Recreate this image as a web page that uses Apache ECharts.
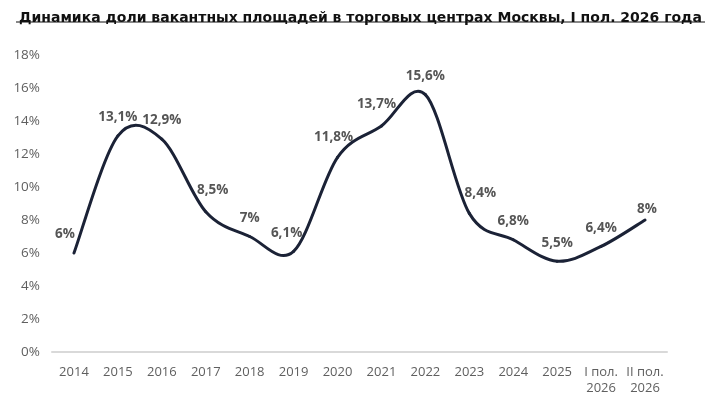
<!DOCTYPE html>
<html>
<head>
<meta charset="utf-8">
<script src="https://cdn.jsdelivr.net/npm/echarts@6/dist/echarts.min.js"></script>
<style>
  html, body { margin: 0; padding: 0; background: #fff; }
  #chart { width: 719px; height: 403px; }
</style>
</head>
<body>
<div id="chart"></div>
<script>
// данные
var categories = ['2014', '2015', '2016', '2017', '2018', '2019', '2020', '2021', '2022', '2023', '2024', '2025', 'I пол.\n2026', 'II пол.\n2026'];
var vacancy = [6, 13.1, 12.9, 8.5, 7, 6.1, 11.8, 13.7, 15.6, 8.4, 6.8, 5.5, 6.4, 8];
var yTicks = [0, 2, 4, 6, 8, 10, 12, 14, 16, 18];

var titleText = 'Динамика доли вакантных площадей в торговых центрах Москвы, I пол. 2026 года';

// сдвиг отдельных подписей (как в оригинале)
var labelShift = { 0: [-9, 0], 3: [7, -3], 5: [-7, 0], 6: [-4, -2], 7: [-5, -3], 9: [11, -2], 13: [2, 8] };

var chart = echarts.init(document.getElementById('chart'));

// сглаженная линия (Catmull-Rom) по точкам через api.coord
function renderSegment(params, api) {
  var i = params.dataIndex;
  if (i >= vacancy.length - 1) return null;
  var pt = function (k) {
    k = Math.max(0, Math.min(vacancy.length - 1, k));
    return api.coord([k, vacancy[k]]);
  };
  var p0 = pt(i - 1), p1 = pt(i), p2 = pt(i + 1), p3 = pt(i + 2);
  var cp1 = [p1[0] + (p2[0] - p0[0]) / 6, p1[1] + (p2[1] - p0[1]) / 6];
  var cp2 = [p2[0] - (p3[0] - p1[0]) / 6, p2[1] - (p3[1] - p1[1]) / 6];
  return {
    type: 'bezierCurve',
    shape: {
      x1: p1[0], y1: p1[1],
      x2: p2[0], y2: p2[1],
      cpx1: cp1[0], cpy1: cp1[1],
      cpx2: cp2[0], cpy2: cp2[1]
    },
    style: { stroke: '#1b2236', lineWidth: 3, fill: null, lineCap: 'round' }
  };
}

var labelData = vacancy.map(function (v, i) {
  var item = { value: v };
  if (labelShift[i]) item.label = { offset: labelShift[i] };
  return item;
});

var option = {
  animation: false,
  title: {
    text: titleText,
    left: 14,
    top: 6,
    textStyle: {
      fontFamily: 'DejaVu Sans',
      fontWeight: 'bold',
      fontSize: 14,
      color: '#111'
    }
  },
  // подчеркивание заголовка
  graphic: [{
    type: 'line',
    shape: { x1: 16, y1: 22, x2: 705, y2: 22 },
    style: { stroke: '#111', lineWidth: 1.2 }
  }],
  grid: {
    left: 52,
    right: 52,
    top: 55,
    bottom: 51
  },
  xAxis: {
    type: 'category',
    data: categories,
    boundaryGap: true,
    axisLine: { lineStyle: { color: '#d9d9d9', width: 2 } },
    axisTick: { show: false },
    axisLabel: {
      color: '#5f5f5f',
      fontFamily: 'Open Sans',
      fontSize: 13,
      margin: 12,
      lineHeight: 16,
      interval: 0
    }
  },
  yAxis: {
    type: 'value',
    min: yTicks[0],
    max: yTicks[yTicks.length - 1],
    interval: 2,
    splitLine: { show: false },
    axisLine: { show: false },
    axisTick: { show: false },
    axisLabel: {
      color: '#5f5f5f',
      fontFamily: 'Open Sans',
      fontSize: 13.5,
      margin: 12,
      formatter: '{value}%'
    }
  },
  series: [
    {
      type: 'custom',
      renderItem: renderSegment,
      data: vacancy.map(function (v, i) { return [i, v]; }),
      encode: { x: 0, y: 1 },
      z: 2
    },
    {
      type: 'scatter',
      data: labelData,
      symbolSize: 1,
      itemStyle: { color: 'rgba(0,0,0,0)' },
      z: 3,
      label: {
        show: true,
        position: 'top',
        distance: 11,
        color: '#2b2b2b',
        fontFamily: 'Open Sans',
        fontWeight: 'bold',
        fontSize: 13.5,
        formatter: function (p) {
          return String(p.value).replace('.', ',') + '%';
        }
      }
    }
  ]
};

option && chart.setOption(option);
</script>
</body>
</html>
